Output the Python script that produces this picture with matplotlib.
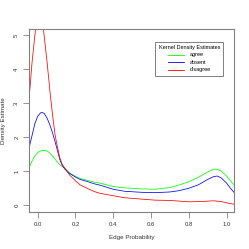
import matplotlib
matplotlib.use("Agg")
import matplotlib.pyplot as plt

x_red = [-0.046, -0.03, -0.015, 0.0, 0.01, 0.02, 0.03, 0.05, 0.065, 0.08, 0.092, 0.105, 0.118, 0.13, 0.144, 0.17, 0.2, 0.224, 0.25, 0.3, 0.33, 0.4, 0.46, 0.55, 0.62, 0.7, 0.8, 0.87, 0.93, 0.97, 1.0, 1.039]
y_red = [3.1, 4.2, 5.0, 5.7, 5.85, 5.7, 5.2, 4.2, 3.34, 2.6, 2.07, 1.7, 1.38, 1.2, 1.09, 0.88, 0.72, 0.6, 0.53, 0.4, 0.35, 0.28, 0.22, 0.18, 0.15, 0.14, 0.1, 0.11, 0.13, 0.11, 0.07, 0.03]

x_blue = [-0.046, -0.03, -0.015, 0.0, 0.015, 0.024, 0.035, 0.05, 0.065, 0.08, 0.092, 0.105, 0.118, 0.13, 0.144, 0.17, 0.2, 0.224, 0.25, 0.3, 0.33, 0.4, 0.46, 0.55, 0.62, 0.7, 0.75, 0.8, 0.85, 0.9, 0.93, 0.95, 0.97, 1.0, 1.02, 1.039]
y_blue = [1.68, 2.05, 2.4, 2.62, 2.72, 2.73, 2.7, 2.56, 2.36, 2.1, 1.87, 1.6, 1.33, 1.17, 1.06, 0.93, 0.83, 0.76, 0.72, 0.63, 0.59, 0.47, 0.41, 0.38, 0.37, 0.39, 0.43, 0.5, 0.6, 0.76, 0.84, 0.86, 0.81, 0.65, 0.5, 0.38]

x_green = [-0.046, -0.03, -0.015, 0.0, 0.02, 0.039, 0.06, 0.08, 0.1, 0.12, 0.144, 0.17, 0.2, 0.224, 0.25, 0.3, 0.33, 0.4, 0.46, 0.55, 0.62, 0.7, 0.75, 0.8, 0.85, 0.9, 0.93, 0.95, 0.97, 1.0, 1.02, 1.039]
y_green = [1.1, 1.3, 1.45, 1.55, 1.61, 1.62, 1.56, 1.44, 1.3, 1.18, 1.09, 0.95, 0.85, 0.79, 0.75, 0.68, 0.65, 0.55, 0.51, 0.48, 0.47, 0.52, 0.6, 0.69, 0.82, 0.98, 1.06, 1.06, 1.01, 0.86, 0.72, 0.6]

labels = ["agree", "absent", "disagree"]
x_ticks = [0.0, 0.2, 0.4, 0.6, 0.8, 1.0]
y_ticks = [0, 1, 2, 3, 4, 5]

plt.rcParams['font.family'] = ['Liberation Sans', 'DejaVu Sans']
fig = plt.figure(figsize=(2.49, 2.49), dpi=100)
ax = fig.add_axes([29/249, 1-212/249, 205/249, 183/249])

lw = 0.55
ax.plot(x_green, y_green, color='#00ff00', lw=lw, label=labels[0])
ax.plot(x_blue, y_blue, color='#0000ff', lw=lw, label=labels[1])
ax.plot(x_red, y_red, color='#ff0000', lw=lw, label=labels[2])

ax.set_xlim(-0.046, 1.039)
ax.set_ylim(-0.2, 5.19)
ax.set_xticks(x_ticks)
ax.set_xticklabels([f"{t:.1f}" for t in x_ticks])
ax.set_yticks(y_ticks)
ax.set_yticklabels([str(t) for t in y_ticks], rotation=90, va='center')
for s in ax.spines.values():
    s.set_color('#808080')
    s.set_linewidth(0.8)
ax.tick_params(axis='both', length=4, width=0.6, color='#808080', labelsize=4.3, pad=3, labelcolor='#333333')
ax.set_xlabel("Edge Probability", fontsize=4.5, labelpad=6, color='#333333')
ax.set_ylabel("Density Estimate", fontsize=4.5, labelpad=6, color='#333333')

leg = ax.legend(loc='upper right', bbox_to_anchor=(0.948, 0.931), borderaxespad=0,
                title="Kernel Density Estimates", fontsize=4.0, title_fontsize=4.0,
                fancybox=False, edgecolor='#808080', framealpha=1,
                handlelength=3.0, labelspacing=0.45, borderpad=0.6, handletextpad=1.0)
leg.get_frame().set_linewidth(0.7)
for line in leg.get_lines():
    line.set_linewidth(0.6)

fig.savefig("out.png", dpi=100)
